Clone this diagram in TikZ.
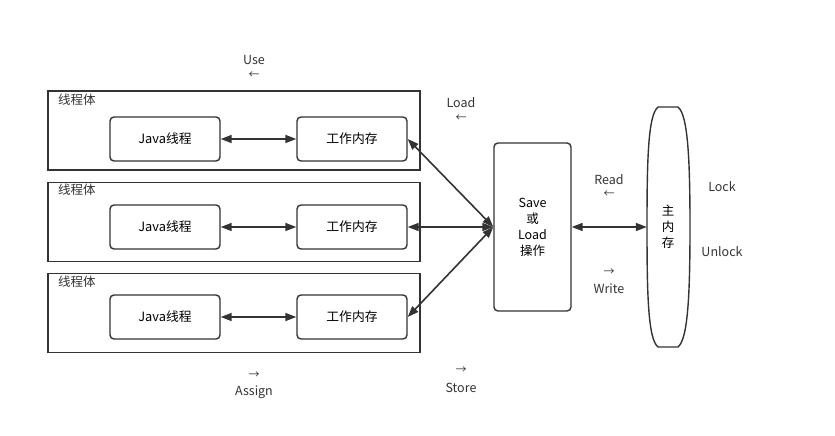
\documentclass[tikz,border=0pt]{standalone}
\usepackage{fontspec}
\setmainfont{Noto Sans CJK SC}
\usetikzlibrary{arrows.meta}
\definecolor{ln}{HTML}{333333}
\tikzset{
  outerbox/.style={draw=ln,line width=1.6pt,minimum width=372pt,minimum height=79pt,inner sep=0pt},
  innerbox/.style={draw=ln,line width=1.4pt,rounded corners=4pt,minimum width=110pt,minimum height=44pt,inner sep=0pt,font=\fontsize{12.8}{14}\selectfont},
  lbl/.style={font=\fontsize{12.5}{14}\selectfont,text=ln,inner sep=0pt},
  sm/.style={font=\fontsize{11}{12}\selectfont,text=ln,inner sep=0pt},
  dbl/.style={draw=ln,line width=1.6pt,{Triangle[length=11pt,width=8pt]}-{Triangle[length=11pt,width=8pt]}},
}
\begin{document}
\begin{tikzpicture}[x=1pt,y=-1pt]
\useasboundingbox (0,0) rectangle (835,436);
% thread bodies
\node[outerbox] (t1) at (234,130.5) {};
\node[outerbox] (t2) at (234,222) {};
\node[outerbox] (t3) at (234,313) {};
\node[lbl,anchor=west] (l1) at (58,100) {线程体};
\node[lbl,anchor=west] (l2) at (58,190) {线程体};
\node[lbl,anchor=west] (l3) at (58,282) {线程体};
% inner boxes
\node[innerbox] (j1) at (165,139) {Java线程};
\node[innerbox] (j2) at (165,227) {Java线程};
\node[innerbox] (j3) at (165,317) {Java线程};
\node[innerbox] (w1) at (352,139) {工作内存};
\node[innerbox] (w2) at (352,227) {工作内存};
\node[innerbox] (w3) at (352,317) {工作内存};
% save box
\node[draw=ln,line width=1.4pt,rounded corners=4pt,minimum width=77pt,minimum height=168pt,inner sep=0pt,align=center,font=\fontsize{12.5}{16}\selectfont] (s) at (532.5,227) {Save\\或\\Load\\操作};
% main memory
\node[minimum width=42pt,minimum height=240pt,inner sep=0pt,align=center,font=\fontsize{12.5}{16}\selectfont] (m) at (668,227) {主\\内\\存};
\draw[ln,line width=1.4pt] (658,107) -- (678,107)
  .. controls (688,115) and (690,160) .. (690,227)
  .. controls (690,294) and (688,339) .. (678,347)
  -- (658,347)
  .. controls (648,339) and (647,294) .. (647,227)
  .. controls (647,160) and (648,115) .. (658,107) -- cycle;
% arrows
\draw[dbl] (j1.east) -- (w1.west);
\draw[dbl] (j2.east) -- (w2.west);
\draw[dbl] (j3.east) -- (w3.west);
\draw[dbl] (w1.east) -- (s.west);
\draw[dbl] (w2.east) -- (s.west);
\draw[dbl] (w3.east) -- (s.west);
\draw[dbl] (s.east) -- (m.west);
% labels
\node[lbl] (use) at (254,60) {Use};
\node[sm] (usea) at (254,75) {←};
\node[lbl] (load) at (461,103) {Load};
\node[sm] (loada) at (461,118) {←};
\node[lbl] (read) at (609,180) {Read};
\node[sm] (reada) at (609,194) {←};
\node[sm] (writea) at (609,272) {→};
\node[lbl] (write) at (609,289) {Write};
\node[lbl] (lock) at (722,187) {Lock};
\node[lbl] (unlock) at (722,252) {Unlock};
\node[sm] (assigna) at (254,375) {→};
\node[lbl] (assign) at (254,392) {Assign};
\node[sm] (storea) at (461,370) {→};
\node[lbl] (store) at (461,388) {Store};
\end{tikzpicture}
\end{document}
